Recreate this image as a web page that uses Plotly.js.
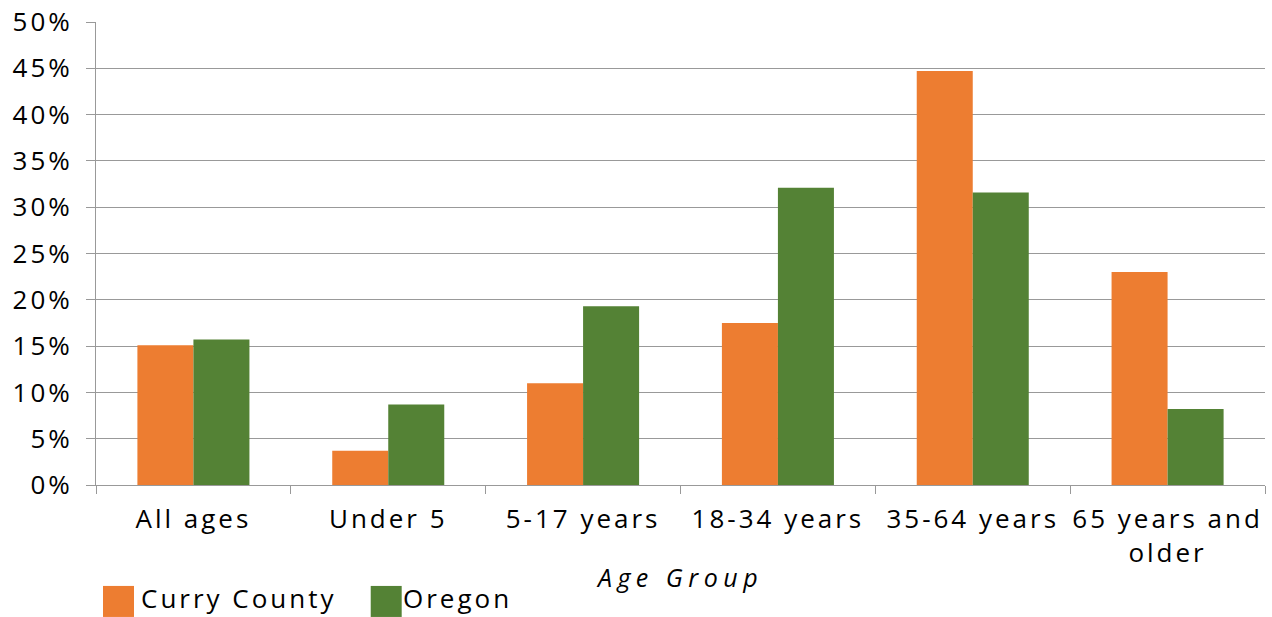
<!DOCTYPE html>
<html>
<head>
<meta charset="utf-8">
<script src="https://cdn.plot.ly/plotly-3.0.1.min.js"></script>
<style>
  html, body { margin: 0; padding: 0; background: #fff; }
  #chart { width: 1272px; height: 617px; }
  #chart text { letter-spacing: 3px; }
  #chart text.xtitle { letter-spacing: 5.5px; }
</style>
</head>
<body>
<div id="chart"></div>
<script>
const categories = ["All ages", "Under 5", "5-17 years", "18-34 years", "35-64 years", "65 years and<br>older"];
const curryCounty = [15.1, 3.7, 11.0, 17.5, 44.7, 23.0];
const oregon = [15.7, 8.7, 19.3, 32.1, 31.6, 8.2];
const seriesNames = ["Curry County", "Oregon"];
const seriesColors = ["#ED7D31", "#548235"];
const yTickVals = [0, 5, 10, 15, 20, 25, 30, 35, 40, 45, 50];
const yTickText = yTickVals.map(v => v + "%");

const font = "'Open Sans', 'DejaVu Sans', sans-serif";

const traces = [curryCounty, oregon].map((vals, i) => ({
  type: "bar",
  x: categories,
  y: vals,
  name: seriesNames[i],
  marker: { color: seriesColors[i], line: { width: 0 } },
  showlegend: false,
  hoverinfo: "x+y+name"
}));

// custom legend (large square swatches)
const legendX = [0.006, 0.235];
const legendTextX = [0.052, 0.269];
const shapes = [];
const annotations = [];
seriesNames.forEach((n, i) => {
  shapes.push({
    type: "rect", xref: "paper", yref: "paper",
    x0: legendX[i], x1: legendX[i] + 0.0265,
    y0: -0.285, y1: -0.218,
    fillcolor: seriesColors[i], line: { width: 0 }
  });
  annotations.push({
    xref: "paper", yref: "paper",
    x: legendTextX[i], y: -0.245,
    xanchor: "left", yanchor: "middle",
    text: n, showarrow: false,
    font: { family: font, size: 26, color: "#000" }
  });
});

const layout = {
  width: 1272, height: 617,
  margin: { l: 96, r: 7, t: 22, b: 132 },
  paper_bgcolor: "#fff", plot_bgcolor: "#fff",
  bargap: 0.425, bargroupgap: 0,
  barmode: "group",
  font: { family: font, size: 26, color: "#000" },
  xaxis: {
    type: "category",
    tickson: "boundaries",
    ticks: "outside", ticklen: 8, tickcolor: "#999", tickwidth: 1,
    showline: true, linecolor: "#999", linewidth: 1,
    showgrid: false,
    ticklabelstandoff: 11,
    tickfont: { family: font, size: 26, color: "#000" },
    title: { text: "Age Group", font: { family: font, size: 25, color: "#000", style: "italic" }, standoff: 0 }
  },
  yaxis: {
    range: [0, 50],
    tickvals: yTickVals, ticktext: yTickText,
    ticks: "outside", ticklen: 9, tickcolor: "#999", tickwidth: 1,
    showline: true, linecolor: "#999", linewidth: 1,
    showgrid: true, gridcolor: "#999", gridwidth: 1,
    zeroline: false,
    tickfont: { family: font, size: 26, color: "#000" },
    ticklabelstandoff: 8
  },
  shapes: shapes,
  annotations: annotations
};

Plotly.newPlot("chart", traces, layout, { displayModeBar: false, staticPlot: true });
</script>
</body>
</html>
